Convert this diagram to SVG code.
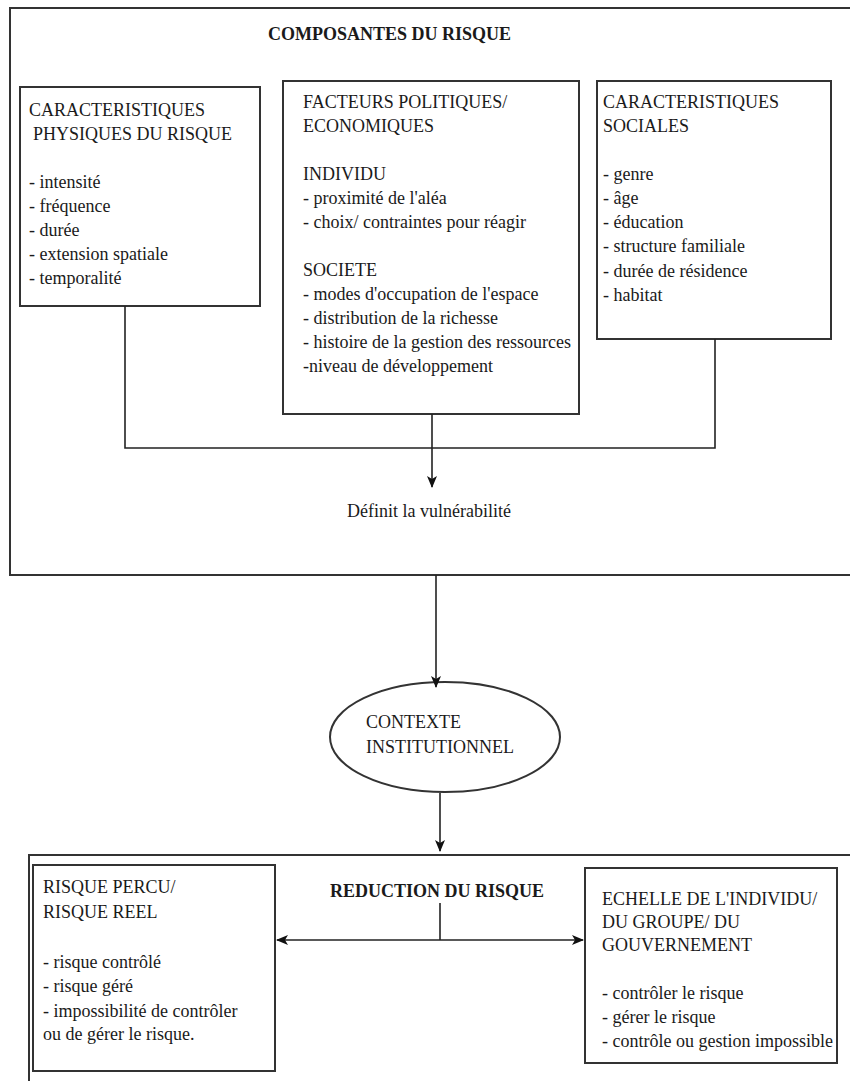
<svg xmlns="http://www.w3.org/2000/svg" width="850" height="1081" viewBox="0 0 850 1081">
<style>
.box{fill:none;stroke:#333;stroke-width:2}
.t{font-family:"Liberation Serif","Times New Roman",serif;font-size:18px;fill:#1a1a1a}
.b{font-weight:bold}
.c{fill:none;stroke:#222;stroke-width:1.6}
</style>
<defs>
<marker id="ah" markerUnits="userSpaceOnUse" markerWidth="12" markerHeight="12" viewBox="0 0 12 12" refX="11" refY="6" orient="auto-start-reverse">
<path d="M0,1 L12,6 L0,11 L3,6 Z" fill="#111"/>
</marker>
</defs>
<rect width="850" height="1081" fill="#fff"/>

<g id="composantes">
<rect class="box" x="10" y="8" width="845" height="567"/>
<text class="t b" x="268" y="40">COMPOSANTES DU RISQUE</text>
</g>

<g id="physiques">
<rect class="box" x="20" y="87" width="240" height="219"/>
<text class="t" x="29" y="116">CARACTERISTIQUES</text>
<text class="t" x="33" y="140">PHYSIQUES DU RISQUE</text>
<text class="t" x="29" y="188">- intensité</text>
<text class="t" x="29" y="212">- fréquence</text>
<text class="t" x="29" y="236">- durée</text>
<text class="t" x="29" y="260">- extension spatiale</text>
<text class="t" x="29" y="284">- temporalité</text>
</g>

<g id="politiques">
<rect class="box" x="283" y="81" width="296" height="333"/>
<text class="t" x="303" y="108">FACTEURS POLITIQUES/</text>
<text class="t" x="303" y="132">ECONOMIQUES</text>
<text class="t" x="303" y="180">INDIVIDU</text>
<text class="t" x="303" y="204">- proximité de l'aléa</text>
<text class="t" x="303" y="228">- choix/ contraintes pour réagir</text>
<text class="t" x="303" y="276">SOCIETE</text>
<text class="t" x="303" y="300">- modes d'occupation de l'espace</text>
<text class="t" x="303" y="324">- distribution de la richesse</text>
<text class="t" x="303" y="348">- histoire de la gestion des ressources</text>
<text class="t" x="303" y="372">-niveau de développement</text>
</g>

<g id="sociales">
<rect class="box" x="597" y="81" width="234" height="258"/>
<text class="t" x="603" y="108">CARACTERISTIQUES</text>
<text class="t" x="603" y="132">SOCIALES</text>
<text class="t" x="603" y="180">- genre</text>
<text class="t" x="603" y="204">- âge</text>
<text class="t" x="603" y="228">- éducation</text>
<text class="t" x="603" y="252">- structure familiale</text>
<text class="t" x="603" y="277">- durée de résidence</text>
<text class="t" x="603" y="301">- habitat</text>
</g>

<g id="vulnerabilite">
<text class="t" x="429" y="517" text-anchor="middle">Définit la vulnérabilité</text>
</g>

<g id="contexte">
<ellipse cx="445" cy="737" rx="115" ry="55" fill="none" stroke="#333" stroke-width="2"/>
<text class="t" x="366" y="728">CONTEXTE</text>
<text class="t" x="366" y="753">INSTITUTIONNEL</text>
</g>

<g id="reduction">
<rect class="box" x="29" y="855" width="830" height="240"/>
<text class="t b" x="330" y="897">REDUCTION DU RISQUE</text>
</g>

<g id="percu">
<rect class="box" x="33" y="865" width="242" height="206"/>
<text class="t" x="43" y="893">RISQUE PERCU/</text>
<text class="t" x="43" y="918">RISQUE REEL</text>
<text class="t" x="43" y="968">- risque contrôlé</text>
<text class="t" x="43" y="992">- risque géré</text>
<text class="t" x="43" y="1017">- impossibilité de contrôler</text>
<text class="t" x="43" y="1040">ou de gérer le risque.</text>
</g>

<g id="echelle">
<rect class="box" x="585" y="868" width="252" height="195"/>
<text class="t" x="602" y="905">ECHELLE DE L'INDIVIDU/</text>
<text class="t" x="602" y="928">DU GROUPE/ DU</text>
<text class="t" x="602" y="951">GOUVERNEMENT</text>
<text class="t" x="602" y="999">- contrôler le risque</text>
<text class="t" x="602" y="1023">- gérer le risque</text>
<text class="t" x="602" y="1047">- contrôle ou gestion impossible</text>
</g>

<g id="connectors">
<path class="c" d="M125 306 V448 H715 V339"/>
<path class="c" d="M432 414 V487" marker-end="url(#ah)"/>
<path class="c" d="M436 575 V687" marker-end="url(#ah)"/>
<path class="c" d="M440 793 V851" marker-end="url(#ah)"/>
<path class="c" d="M277 940 H583" marker-start="url(#ah)" marker-end="url(#ah)"/>
<path class="c" d="M440 903 V940"/>
</g>
</svg>
